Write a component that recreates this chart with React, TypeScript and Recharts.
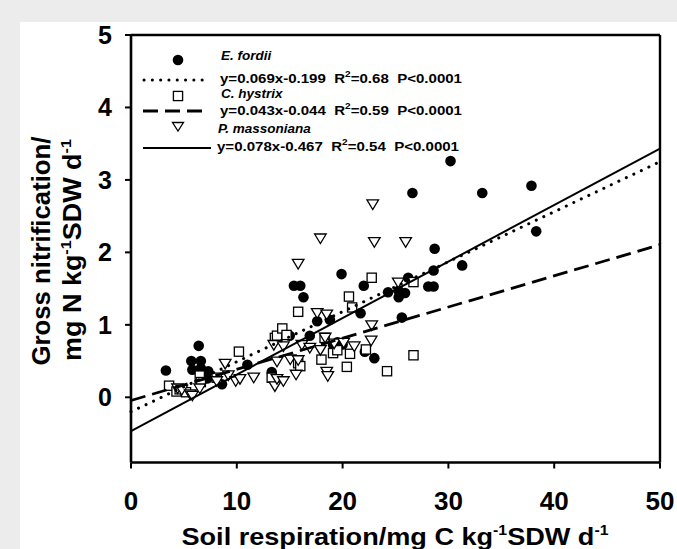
import React from 'react';
import { ScatterChart, Scatter, XAxis, YAxis, ReferenceLine } from 'recharts';

// soil respiration (x) vs gross nitrification (y)
const fordii: [number, number][] = [
  [3.3, 0.37], [5.7, 0.5], [5.8, 0.38], [6.4, 0.71], [6.6, 0.5], [6.6, 0.4],
  [7.2, 0.26], [7.3, 0.36], [8.6, 0.18], [11.0, 0.45], [13.3, 0.35], [15.0, 0.85],
  [15.4, 1.54], [16.0, 1.54], [16.3, 1.38], [16.9, 0.85], [17.6, 1.05], [18.8, 1.07],
  [19.1, 0.72], [19.5, 0.76], [19.9, 1.7], [20.0, 0.73], [21.7, 1.16], [22.0, 1.54],
  [22.1, 0.63], [23.0, 0.54], [24.3, 1.45], [25.3, 1.38], [25.3, 1.47], [25.6, 1.1],
  [25.9, 1.44], [26.2, 1.65], [26.6, 2.82], [28.1, 1.53], [28.6, 1.53], [28.6, 1.75],
  [28.7, 2.05], [30.2, 3.26], [31.3, 1.82], [33.2, 2.82], [37.85, 2.92], [38.3, 2.29],
];

const hystrix: [number, number][] = [
  [3.6, 0.16], [4.3, 0.08], [4.6, 0.11], [5.2, 0.07], [6.5, 0.3], [6.6, 0.21],
  [8.1, 0.27], [10.2, 0.63], [13.3, 0.27], [13.6, 0.82], [13.8, 0.85], [14.3, 0.95],
  [14.7, 0.86], [15.8, 1.18], [15.8, 0.47], [16.0, 0.43], [18.0, 0.52], [18.3, 0.82],
  [19.1, 0.61], [19.5, 0.65], [20.4, 0.42], [20.6, 1.39], [20.7, 0.6], [20.9, 1.24],
  [22.2, 0.66], [22.75, 1.65], [24.2, 0.36], [26.7, 1.59], [26.7, 0.58],
];

const massoniana: [number, number][] = [
  [4.4, 0.12], [4.8, 0.1], [5.6, 0.04], [5.8, 0.02], [6.5, 0.12], [8.1, 0.22],
  [8.9, 0.46], [9.2, 0.3], [9.9, 0.22], [10.3, 0.25], [11.6, 0.27], [13.5, 0.72],
  [13.6, 0.15], [13.8, 0.49], [13.8, 0.25], [14.4, 0.7], [14.4, 0.22], [15.05, 0.52],
  [15.6, 0.31], [15.8, 0.51], [15.8, 1.84], [16.15, 0.72], [16.9, 0.68], [17.6, 1.16],
  [17.9, 0.65], [17.9, 2.19], [18.35, 0.82], [18.5, 1.14], [18.5, 0.35], [18.6, 0.29],
  [19.2, 0.74], [20.1, 0.75], [21.1, 0.7], [22.75, 0.99], [22.7, 0.78], [22.85, 2.66],
  [23.0, 2.14], [25.26, 1.58], [25.96, 2.14],
];

// regression fits as printed in the legend
const fitNames = ['E. fordii', 'C. hystrix', 'P. massoniana'];
const fitSlope = [0.069, 0.043, 0.078];
const fitIntercept = [-0.199, -0.044, -0.467];
const fitEq = ['y=0.069x-0.199', 'y=0.043x-0.044', 'y=0.078x-0.467'];
const fitR2 = ['0.68', '0.59', '0.54'];
const fitP = 'P<0.0001';

const xTicks = [0, 10, 20, 30, 40, 50];
const yTicks = [0, 1, 2, 3, 4, 5];
const xRange: [number, number] = [0, 50];

const toPts = (arr: [number, number][]) => arr.map(([x, y]) => ({ x, y }));
const fitLine = (i: number) =>
  xRange.map(x => ({ x, y: fitSlope[i] * x + fitIntercept[i] }));

const font = 'Arial, "Liberation Sans", sans-serif';

const Dot = (p: any) => <circle cx={p.cx} cy={p.cy} r={5.3} fill="#000" />;
const Square = (p: any) => (
  <rect x={p.cx - 4.6} y={p.cy - 4.6} width={9.2} height={9.2} fill="#fff" stroke="#000" strokeWidth={1.3} />
);
const Tri = (p: any) => (
  <path
    d={`M${p.cx - 5.8},${p.cy - 4.6}L${p.cx + 5.8},${p.cy - 4.6}L${p.cx},${p.cy + 5}Z`}
    fill="#fff"
    stroke="#000"
    strokeWidth={1.3}
  />
);
const NoShape = () => <g />;

const lineStyles = [
  { stroke: '#000', strokeWidth: 3, strokeDasharray: '0.1 8.2', strokeLinecap: 'round' as const },
  { stroke: '#000', strokeWidth: 2.8, strokeDasharray: '15 7' },
  { stroke: '#000', strokeWidth: 2 },
];

const LegendBox = () => {
  const nameY = [60, 98, 133];
  const eqY = [82.5, 115, 151];
  return (
    <svg width={677} height={549} style={{ position: 'absolute', left: 0, top: 0, pointerEvents: 'none' }}>
      <g fontFamily={font} fontWeight="bold" fill="#000">
        {/* markers */}
        <circle cx={178} cy={60} r={5.3} fill="#000" />
        <rect x={173.4} y={91.4} width={9.2} height={9.2} fill="#fff" stroke="#000" strokeWidth={1.3} />
        <path d="M172.5,122.5L183.5,122.5L178,131Z" fill="#fff" stroke="#000" strokeWidth={1.3} />
        {/* line samples */}
        <line x1={144} y1={80} x2={208} y2={80} {...lineStyles[0]} />
        <line x1={143} y1={111} x2={204} y2={111} {...lineStyles[1]} />
        <line x1={143} y1={148} x2={211} y2={148} {...lineStyles[2]} />
        {fitNames.map((n, i) => (
          <text key={n} x={i === 2 ? 218 : 221} y={nameY[i]} fontSize={13.5} fontStyle="italic">
            {n}
          </text>
        ))}
        {fitEq.map((eq, i) => (
          <text
            key={eq}
            x={i === 2 ? 217 : 220}
            y={eqY[i]}
            fontSize={13.5}
            textLength={242}
            lengthAdjust="spacingAndGlyphs"
            xmlSpace="preserve"
            style={{ whiteSpace: 'pre' }}
          >
            {eq + '  R'}
            <tspan fontSize={9} dy={-6}>2</tspan>
            <tspan dy={6}>{'=' + fitR2[i] + '  ' + fitP}</tspan>
          </text>
        ))}
      </g>
      {/* axis titles */}
      <g fontFamily={font} fontWeight="bold" fill="#000">
        <text x={50} y={251} fontSize={25} textAnchor="middle" transform="rotate(-90 50 251)" textLength={229} lengthAdjust="spacingAndGlyphs">
          Gross nitrification/
        </text>
        <text x={81} y={250} fontSize={25} textAnchor="middle" transform="rotate(-90 81 250)" textLength={222} lengthAdjust="spacingAndGlyphs">
          mg N kg<tspan fontSize={15} dy={-10}>-1</tspan>
          <tspan dy={10}>SDW d</tspan>
          <tspan fontSize={15} dy={-10}>-1</tspan>
        </text>
        <text x={395} y={545} fontSize={24} textAnchor="middle" textLength={427} lengthAdjust="spacingAndGlyphs">
          Soil respiration/mg C kg<tspan fontSize={14} dy={-10}>-1</tspan>
          <tspan dy={10}>SDW d</tspan>
          <tspan fontSize={14} dy={-10}>-1</tspan>
        </text>
      </g>
    </svg>
  );
};

const App: React.FC = () => {
  const tickStyle = { fontFamily: font, fontWeight: 'bold', fill: '#000' };
  return (
    <div style={{ position: 'absolute', left: 0, top: 0, width: 677, height: 549, background: '#ececec', overflow: 'hidden' }}>
      <div style={{ position: 'absolute', left: 20, top: 22, right: 0, bottom: 0, background: '#fff' }} />
      <div style={{ position: 'absolute', left: 0, top: 0 }}>
        <ScatterChart width={677} height={549} margin={{ top: 35, right: 17, bottom: 46.5, left: 71 }}>
          <XAxis
            type="number"
            dataKey="x"
            domain={xRange}
            ticks={xTicks}
            height={40}
            tickSize={6}
            tickMargin={23}
            axisLine={{ stroke: '#000', strokeWidth: 2.6 }}
            tickLine={{ stroke: '#000', strokeWidth: 2 }}
            tick={{ ...tickStyle, fontSize: 26 }}
          />
          <YAxis
            type="number"
            dataKey="y"
            domain={[-0.9, 5]}
            ticks={yTicks}
            width={60}
            tickSize={6}
            tickMargin={13}
            axisLine={{ stroke: '#000', strokeWidth: 2.6 }}
            tickLine={{ stroke: '#000', strokeWidth: 2 }}
            tick={{ ...tickStyle, fontSize: 25 }}
          />
          <ReferenceLine y={5} stroke="#000" strokeWidth={2.6} />
          <ReferenceLine x={50} stroke="#000" strokeWidth={2.4} />
          <Scatter data={toPts(fordii)} shape={Dot} isAnimationActive={false} />
          <Scatter data={toPts(hystrix)} shape={Square} isAnimationActive={false} />
          <Scatter data={toPts(massoniana)} shape={Tri} isAnimationActive={false} />
          {fitNames.map((n, i) => (
            <Scatter
              key={n}
              data={fitLine(i)}
              line={lineStyles[i]}
              lineType="joint"
              shape={NoShape}
              isAnimationActive={false}
            />
          ))}
        </ScatterChart>
      </div>
      <LegendBox />
    </div>
  );
};

export default App;
